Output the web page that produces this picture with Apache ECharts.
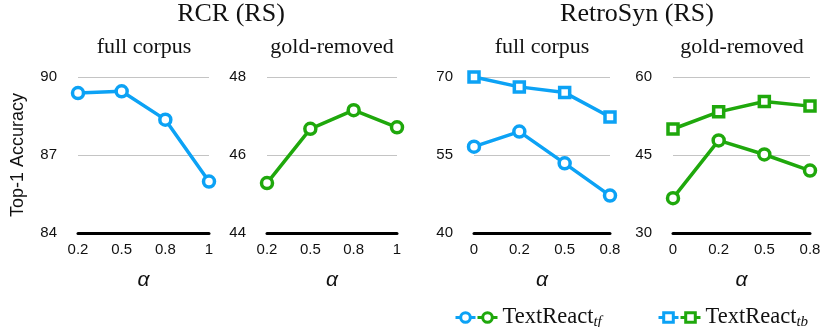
<!DOCTYPE html>
<html>
<head>
<meta charset="utf-8">
<script src="https://cdn.jsdelivr.net/npm/echarts@6/dist/echarts.min.js"></script>
<style>
  html, body { margin: 0; padding: 0; background: #fff; }
  #chart { width: 831px; height: 327px; }
</style>
</head>
<body>
<div id="chart"></div>
<script>
// data
var rcrAlpha = ['0.2', '0.5', '0.8', '1'];
var rsAlpha = ['0', '0.2', '0.5', '0.8'];
var rcrFullTf = [89.38, 89.45, 88.36, 85.98];
var rcrGoldTf = [45.28, 46.67, 47.15, 46.71];
var rsFullTf = [56.6, 59.5, 53.4, 47.2];
var rsFullTb = [70.0, 68.1, 67.0, 62.3];
var rsGoldTf = [36.7, 47.8, 45.1, 42.0];
var rsGoldTb = [50.0, 53.3, 55.3, 54.4];
var yTicks = [[84, 90, 3], [44, 48, 2], [40, 70, 15], [30, 60, 15]];

var BLUE = '#0ca2f5';
var GREEN = '#1fa80c';
var SANS = 'Liberation Sans';
var SERIF = 'Liberation Serif';

var grids = [
  { left: 78, width: 131, top: 77, height: 156 },
  { left: 267, width: 130, top: 77, height: 156 },
  { left: 474, width: 136, top: 77, height: 156 },
  { left: 673, width: 137, top: 77, height: 156 }
];

function xAxis(idx, cats) {
  return {
    type: 'category', gridIndex: idx, data: cats, boundaryGap: false,
    axisLine: { lineStyle: { color: '#000', width: 3 } },
    axisTick: { show: false },
    axisLabel: { fontFamily: SANS, fontSize: 15, color: '#111', margin: 9 },
    name: 'α', nameLocation: 'middle', nameGap: 37,
    nameTextStyle: { fontFamily: SANS, fontStyle: 'italic', fontSize: 21, color: '#111' }
  };
}

function yAxis(idx) {
  var t = yTicks[idx];
  var ax = {
    type: 'value', gridIndex: idx, min: t[0], max: t[1], interval: t[2],
    axisLine: { show: false }, axisTick: { show: false },
    axisLabel: { fontFamily: SANS, fontSize: 15, color: '#111', margin: 21 },
    splitLine: { lineStyle: { color: '#c4c4c4', width: 1 } }
  };
  if (idx === 0) {
    ax.name = 'Top-1 Accuracy';
    ax.nameLocation = 'middle';
    ax.nameGap = 51;
    ax.nameTextStyle = { fontFamily: SANS, fontSize: 18, color: '#111' };
  }
  return ax;
}

// hollow markers drawn as filled white shapes with a thick coloured border
function line(name, idx, data, color, symbol, size) {
  return {
    name: name, type: 'line', xAxisIndex: idx, yAxisIndex: idx, data: data,
    symbol: symbol, symbolSize: size, showSymbol: true,
    lineStyle: { color: color, width: 3.5 },
    itemStyle: { color: '#fff', borderColor: color, borderWidth: 3.5 },
    emphasis: { disabled: true }
  };
}

function legendText(name) {
  if (name === 'tfGreen') return '{m|TextReact}{s|tf}';
  if (name === 'tbGreen') return '{m|TextReact}{s|tb}';
  return '';
}
var legendRich = {
  m: { fontFamily: SERIF, fontSize: 22.5, color: '#111' },
  s: { fontFamily: SERIF, fontSize: 15, fontStyle: 'italic', color: '#111', padding: [9, 0, 0, 0] }
};

function legend(left, names) {
  return {
    left: left, top: 301, itemWidth: 20, itemHeight: 12, itemGap: -1,
    data: names, formatter: legendText,
    itemStyle: { borderWidth: 3 }, lineStyle: { width: 3 },
    textStyle: { rich: legendRich }, selectedMode: false
  };
}

function label(x, y, text, size) {
  return {
    type: 'text', x: x, y: y,
    style: { text: text, fontFamily: SERIF, fontSize: size, fill: '#111', textAlign: 'center' }
  };
}

var chart = echarts.init(document.getElementById('chart'));
chart.setOption({
  animation: false,
  grid: grids,
  xAxis: [xAxis(0, rcrAlpha), xAxis(1, rcrAlpha), xAxis(2, rsAlpha), xAxis(3, rsAlpha)],
  yAxis: [yAxis(0), yAxis(1), yAxis(2), yAxis(3)],
  legend: [legend(449, ['tfBlue', 'tfGreen']), legend(652, ['tbBlue', 'tbGreen'])],
  graphic: [
    label(231, 1, 'RCR (RS)', 26),
    label(637, 1, 'RetroSyn (RS)', 26),
    label(144, 36, 'full corpus', 22),
    label(332, 36, 'gold-removed', 22),
    label(542, 36, 'full corpus', 22),
    label(742, 36, 'gold-removed', 22)
  ],
  series: [
    line('tfBlue', 0, rcrFullTf, BLUE, 'circle', 11),
    line('tfGreen', 1, rcrGoldTf, GREEN, 'circle', 11),
    line('tbBlue', 2, rsFullTb, BLUE, 'rect', 10),
    line('tfBlue', 2, rsFullTf, BLUE, 'circle', 11),
    line('tbGreen', 3, rsGoldTb, GREEN, 'rect', 10),
    line('tfGreen', 3, rsGoldTf, GREEN, 'circle', 11)
  ]
});
</script>
</body>
</html>
